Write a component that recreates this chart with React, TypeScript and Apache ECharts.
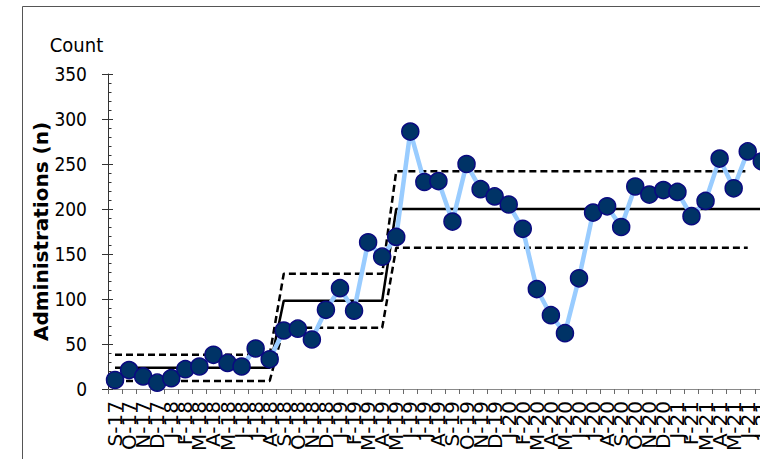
import React, { useEffect, useRef } from "react";
import * as echarts from "echarts";

const categories: string[] = [
  "S-17", "O-17", "N-17", "D-17", "J-18", "F-18", "M-18", "A-18", "M-18", "J-18", "J-18", "A-18",
  "S-18", "O-18", "N-18", "D-18", "J-19", "F-19", "M-19", "A-19", "M-19", "J-19", "J-19", "A-19",
  "S-19", "O-19", "N-19", "D-19", "J-20", "F-20", "M-20", "A-20", "M-20", "J-20", "J-20", "A-20",
  "S-20", "O-20", "N-20", "D-20", "J-21", "F-21", "M-21", "A-21", "M-21", "J-21", "J-21",
];

const counts: number[] = [
  10, 21, 14, 7, 12, 22, 25, 38, 29, 25, 45, 33,
  65, 67, 55, 88, 112, 87, 163, 147,
  169, 286, 230, 231, 186, 250, 222, 214, 205, 178, 111, 82, 62, 123, 196, 203, 180,
  225, 216, 221, 219, 192, 209, 256, 223, 264, 253,
];

// phase lengths (number of months per phase)
const phaseLengths: number[] = [12, 8, 27];
const phaseMeans: number[] = [23.5, 98, 200];
const phaseUcl: number[] = [38, 128, 242];
const phaseLcl: number[] = [9, 68, 157];
// limits are drawn up to the second-to-last month
const limitsEndIndex = 45;

const yTicks = { min: 0, max: 350, interval: 50 };

function expand(vals: number[], lens: number[]): number[] {
  const out: number[] = [];
  vals.forEach((v, k) => {
    for (let j = 0; j < lens[k]; j++) out.push(v);
  });
  return out;
}

const meanData = expand(phaseMeans, phaseLengths);
const uclData: (number | string)[] = expand(phaseUcl, phaseLengths).map((v, i) => (i <= limitsEndIndex ? v : "-"));
const lclData: (number | string)[] = expand(phaseLcl, phaseLengths).map((v, i) => (i <= limitsEndIndex ? v : "-"));

export default function App() {
  const ref = useRef<HTMLDivElement>(null);
  useEffect(() => {
    if (!ref.current) return;
    const chart = echarts.init(ref.current, undefined, { renderer: "svg" });
    const catW = 14.06;
    const tickFont = "'DejaVu Sans Condensed', 'DejaVu Sans', sans-serif";
    chart.setOption({
      animation: false,
      backgroundColor: "#ffffff",
      grid: { left: 108, top: 74, height: 315, width: catW * categories.length },
      xAxis: {
        type: "category",
        data: categories,
        boundaryGap: true,
        axisLine: { lineStyle: { color: "#8a8a8a", width: 1 } },
        axisTick: { show: true, length: 5, lineStyle: { color: "#6a6a6a" } },
        axisLabel: {
          interval: 0,
          rotate: 90,
          margin: 12,
          fontSize: 20,
          fontFamily: "'DejaVu Sans', sans-serif",
          color: "#000",
        },
        splitLine: { show: false },
      },
      yAxis: [
        {
          type: "value",
          min: yTicks.min,
          max: yTicks.max,
          interval: yTicks.interval,
          axisLine: { show: true, lineStyle: { color: "#333", width: 1 } },
          axisTick: { show: true, inside: true, length: 5, lineStyle: { color: "#333" } },
          minorTick: { show: true, splitNumber: 5, length: 3.5, lineStyle: { color: "#333" } },
          axisLabel: { margin: 21, fontSize: 19, fontFamily: tickFont, color: "#000" },
          splitLine: { show: false },
        },
        {
          type: "value",
          position: "left",
          min: yTicks.min,
          max: yTicks.max,
          interval: yTicks.interval,
          axisLine: { show: false },
          axisTick: { show: true, inside: false, length: 6, lineStyle: { color: "#333" } },
          axisLabel: { show: false },
          splitLine: { show: false },
        },
      ],
      graphic: [
        {
          type: "line",
          shape: { x1: 22.5, y1: 6.5, x2: 22.5, y2: 470 },
          style: { stroke: "#555", lineWidth: 1 },
          silent: true,
        },
        {
          type: "line",
          shape: { x1: 22.5, y1: 6.5, x2: 810, y2: 6.5 },
          style: { stroke: "#555", lineWidth: 1 },
          silent: true,
        },
        {
          type: "text",
          x: 76.5,
          y: 45,
          style: {
            text: "Count",
            fontSize: 20,
            fontFamily: tickFont,
            fill: "#000",
            align: "center",
            verticalAlign: "middle",
          },
        },
        {
          type: "text",
          x: 41,
          y: 231.5,
          rotation: Math.PI / 2,
          style: {
            text: "Administrations (n)",
            fontSize: 20,
            fontWeight: "bold",
            fontFamily: "'DejaVu Sans', sans-serif",
            fill: "#000",
            align: "center",
            verticalAlign: "middle",
          },
        },
      ],
      series: [
        {
          name: "LCL",
          type: "line",
          data: lclData,
          symbol: "none",
          silent: true,
          lineStyle: { color: "#000", width: 2.5, type: [7, 4] },
          z: 2,
        },
        {
          name: "UCL",
          type: "line",
          data: uclData,
          symbol: "none",
          silent: true,
          lineStyle: { color: "#000", width: 2.5, type: [7, 4] },
          z: 2,
        },
        {
          name: "Mean",
          type: "line",
          data: meanData,
          symbol: "none",
          silent: true,
          lineStyle: { color: "#000", width: 2.5 },
          z: 2,
        },
        {
          name: "Count",
          type: "line",
          data: counts,
          symbol: "circle",
          symbolSize: 17,
          lineStyle: { color: "#99CCFF", width: 4.5 },
          itemStyle: { color: "#003366", borderColor: "#0a0a80", borderWidth: 1.5 },
          z: 3,
        },
      ],
    });
    return () => chart.dispose();
  }, []);
  return (
    <div style={{ position: "fixed", left: 0, top: 0, width: 760, height: 459, overflow: "hidden", background: "#fff" }}>
      <div ref={ref} style={{ width: 820, height: 459 }} />
    </div>
  );
}
